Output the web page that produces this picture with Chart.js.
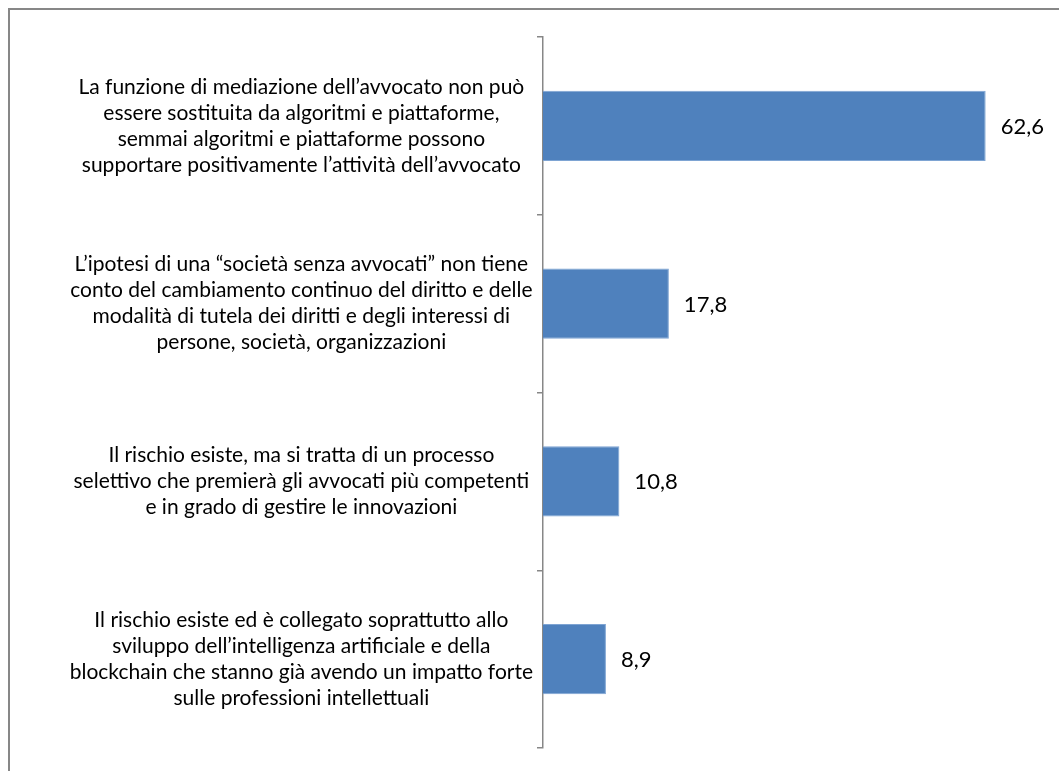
<!DOCTYPE html>
<html>
<head>
<meta charset="utf-8">
<script src="https://cdn.jsdelivr.net/npm/chart.js@4/dist/chart.umd.min.js"></script>
<style>
  body { margin: 0; background: #fff; }
  #wrap { position: relative; width: 1059px; height: 771px; overflow: hidden; }
  #frame { position: absolute; left: 8px; top: 8px; width: 1100px; height: 800px;
           border-left: 2px solid #878787; border-top: 2px solid #878787; }
  canvas { position: absolute; left: 0; top: 0; }
</style>
</head>
<body>
<div id="wrap">
  <div id="frame"></div>
  <canvas id="bar-chart" width="1059" height="771"></canvas>
</div>
<script>
var categories = [
  ["La funzione di mediazione dell\u2019avvocato non pu\u00f2", "essere sostituita da algoritmi e piattaforme,", "semmai algoritmi e piattaforme possono", "supportare positivamente l\u2019attivit\u00e0 dell\u2019avvocato"],
  ["L\u2019ipotesi di una \u201csociet\u00e0 senza avvocati\u201d non tiene", "conto del cambiamento continuo del diritto e delle", "modalit\u00e0 di tutela dei diritti e degli interessi di", "persone, societ\u00e0, organizzazioni"],
  ["Il rischio esiste, ma si tratta di un processo", "selettivo che premier\u00e0 gli avvocati pi\u00f9 competenti", "e in grado di gestire le innovazioni"],
  ["Il rischio esiste ed \u00e8 collegato soprattutto allo", "sviluppo dell\u2019intelligenza artificiale e della", "blockchain che stanno gi\u00e0 avendo un impatto forte", "sulle professioni intellettuali"]
];
var values = [62.6, 17.8, 10.8, 8.9];
var xMax = 70;

var valueLabels = {
  id: "valueLabels",
  afterDatasetsDraw: function(chart) {
    var ctx = chart.ctx;
    var meta = chart.getDatasetMeta(0);
    ctx.save();
    ctx.font = "22px Lato";
    ctx.fillStyle = "#000";
    ctx.textAlign = "left";
    ctx.textBaseline = "middle";
    meta.data.forEach(function(bar, i) {
      ctx.fillText(values[i].toFixed(1).replace(".", ","), bar.x + 15, bar.y + 1);
    });
    ctx.restore();
  }
};

new Chart(document.getElementById("bar-chart").getContext("2d"), {
  type: "bar",
  data: {
    labels: categories,
    datasets: [{
      data: values,
      backgroundColor: "#4F81BD",
      borderColor: "#7EA4D3",
      borderWidth: 1,
      barPercentage: 0.394,
      categoryPercentage: 1
    }]
  },
  options: {
    indexAxis: "y",
    responsive: false,
    animation: false,
    layout: { padding: { top: 37, bottom: 23, left: 0, right: 21 } },
    plugins: { legend: { display: false }, tooltip: { enabled: false } },
    scales: {
      x: { display: false, min: 0, max: xMax },
      y: {
        afterFit: function(scale) {
          scale.width = 543;
          scale.paddingTop = 0;
          scale.paddingBottom = 0;
        },
        border: { color: "#878787", width: 1.5 },
        grid: { offset: true, drawOnChartArea: false, tickLength: 6, color: "#878787", lineWidth: 1.5 },
        ticks: {
          crossAlign: "center",
          padding: 4,
          color: "#000",
          font: { family: "Lato", size: 21, lineHeight: 1.24 }
        }
      }
    }
  },
  plugins: [valueLabels]
});
</script>
</body>
</html>
